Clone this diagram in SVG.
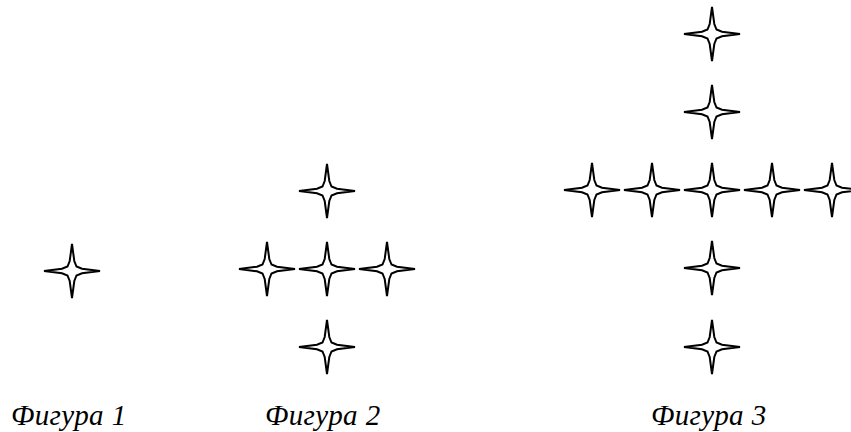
<svg xmlns="http://www.w3.org/2000/svg" xmlns:xlink="http://www.w3.org/1999/xlink" width="851" height="432" viewBox="0 0 851 432">
<style>
.star{fill:#fff;stroke:#000;stroke-width:2;stroke-linejoin:miter;stroke-miterlimit:4}
.lbl{font-family:"Liberation Serif","Times New Roman",serif;font-style:italic;font-size:29px;letter-spacing:0.4px;fill:#000}
</style>
<defs>
<path id="s" class="star" d="M0,-27 L2.3,-10 L4.5,-4.5 L10,-2.3 L28,0 L10,2.3 L4.5,4.5 L2.3,10 L0,27 L-2.3,10 L-4.5,4.5 L-10,2.3 L-28,0 L-10,-2.3 L-4.5,-4.5 L-2.3,-10 Z"/>
</defs>
<rect width="851" height="432" fill="#fff"/>
<g id="figure1">
<use xlink:href="#s" href="#s" x="72" y="271"/>
<text class="lbl" x="11" y="425">Фигура 1</text>
</g>
<g id="figure2">
<use xlink:href="#s" href="#s" x="327" y="191"/>
<use xlink:href="#s" href="#s" x="267" y="269"/>
<use xlink:href="#s" href="#s" x="327" y="269"/>
<use xlink:href="#s" href="#s" x="387" y="269"/>
<use xlink:href="#s" href="#s" x="327" y="347"/>
<text class="lbl" x="265" y="425">Фигура 2</text>
</g>
<g id="figure3">
<use xlink:href="#s" href="#s" x="712" y="34"/>
<use xlink:href="#s" href="#s" x="712" y="112"/>
<use xlink:href="#s" href="#s" x="592" y="190"/>
<use xlink:href="#s" href="#s" x="652" y="190"/>
<use xlink:href="#s" href="#s" x="712" y="190"/>
<use xlink:href="#s" href="#s" x="772" y="190"/>
<use xlink:href="#s" href="#s" x="832" y="190"/>
<use xlink:href="#s" href="#s" x="712" y="268"/>
<use xlink:href="#s" href="#s" x="712" y="347"/>
<text class="lbl" x="651" y="425">Фигура 3</text>
</g>
<g id="connectors"/>
</svg>
